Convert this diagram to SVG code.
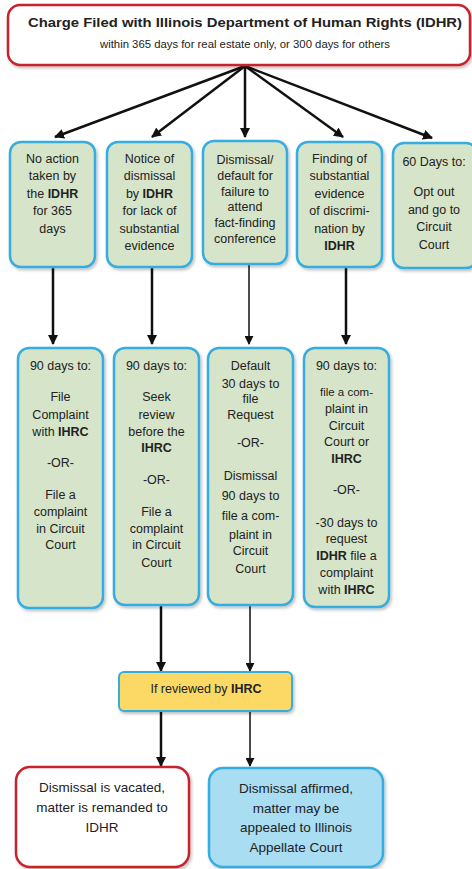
<svg xmlns="http://www.w3.org/2000/svg" width="472" height="869" viewBox="0 0 472 869">
<defs>
<marker id="ah" viewBox="0 0 10 10" refX="9" refY="5" markerWidth="4" markerHeight="4" orient="auto-start-reverse" markerUnits="strokeWidth">
<path d="M0,0 L10,5 L0,10 z" fill="#111"/>
</marker>
<marker id="ahs" viewBox="0 0 10 10" refX="9" refY="5" markerWidth="6" markerHeight="6" orient="auto" markerUnits="strokeWidth">
<path d="M0,0 L10,5 L0,10 z" fill="#111"/>
</marker>
<filter id="sh" x="-10%" y="-10%" width="130%" height="130%">
<feDropShadow dx="1.5" dy="2" stdDeviation="1.8" flood-color="#000" flood-opacity="0.25"/>
</filter>
</defs>
<style>
text{font-family:"Liberation Sans",Arial,sans-serif;fill:#222;text-anchor:middle}
.t{font-size:12.5px}
.b{font-weight:bold}
.g{fill:#d6e4c9;stroke:#35ade0;stroke-width:2.5;filter:url(#sh)}
.c{stroke:#111;stroke-width:2.5;fill:none;marker-end:url(#ah)}
.cs{stroke:#111;stroke-width:1.5;fill:none;marker-end:url(#ahs)}
</style>
<rect width="472" height="869" fill="#fff"/>

<g id="connectors">
<line class="c" x1="245" y1="66" x2="55" y2="137"/>
<line class="c" x1="245" y1="66" x2="152" y2="137"/>
<line class="c" x1="245" y1="66" x2="245" y2="137"/>
<line class="c" x1="245" y1="66" x2="343" y2="137"/>
<line class="c" x1="245" y1="66" x2="432" y2="138"/>
<line class="c" x1="53" y1="268" x2="53" y2="344"/>
<line class="c" x1="152" y1="268" x2="152" y2="344"/>
<line class="cs" x1="249" y1="264" x2="249" y2="344"/>
<line class="c" x1="346" y1="268" x2="346" y2="344"/>
<line class="c" x1="161" y1="606" x2="161" y2="671"/>
<line class="cs" x1="250" y1="606" x2="250" y2="671"/>
<line class="c" x1="161" y1="711" x2="161" y2="766"/>
<line class="cs" x1="250" y1="711" x2="250" y2="766"/>
</g>

<g id="top">
<rect x="8" y="5" width="462" height="60" rx="12" fill="#fff" stroke="#c8202a" stroke-width="2.5" filter="url(#sh)"/>
<text x="245" y="27" class="b" font-size="13.5" textLength="434" lengthAdjust="spacingAndGlyphs">Charge Filed with Illinois Department  of  Human Rights (IDHR)</text>
<text x="245" y="48" font-size="10" textLength="290" lengthAdjust="spacingAndGlyphs">within 365 days for real estate only, or 300 days for others</text>
</g>

<g id="n1">
<rect class="g" x="10" y="142" width="85" height="125" rx="11"/>
<text class="t"><tspan x="52.5" y="163">No action</tspan><tspan x="52.5" y="180">taken by</tspan><tspan x="52.5" y="198">the <tspan class="b">IDHR</tspan></tspan><tspan x="52.5" y="215">for 365</tspan><tspan x="52.5" y="233">days</tspan></text>
</g>
<g id="n2">
<rect class="g" x="107" y="142" width="85" height="125" rx="11"/>
<text class="t"><tspan x="149.5" y="163">Notice of</tspan><tspan x="149.5" y="180">dismissal</tspan><tspan x="149.5" y="198">by <tspan class="b">IDHR</tspan></tspan><tspan x="149.5" y="215">for  lack of</tspan><tspan x="149.5" y="233">substantial</tspan><tspan x="149.5" y="250">evidence</tspan></text>
</g>
<g id="n3">
<rect class="g" x="203" y="141" width="84" height="123" rx="11"/>
<text class="t"><tspan x="245" y="164">Dismissal/</tspan><tspan x="245" y="180">default for</tspan><tspan x="245" y="196">failure to</tspan><tspan x="245" y="211">attend</tspan><tspan x="245" y="227">fact-finding</tspan><tspan x="245" y="243">conference</tspan></text>
</g>
<g id="n4">
<rect class="g" x="297" y="142" width="85" height="125" rx="11"/>
<text class="t"><tspan x="339.5" y="163">Finding of</tspan><tspan x="339.5" y="180">substantial</tspan><tspan x="339.5" y="198">evidence</tspan><tspan x="339.5" y="215">of discrimi-</tspan><tspan x="339.5" y="233">nation by</tspan><tspan x="339.5" y="250" class="b">IDHR</tspan></text>
</g>
<g id="n5">
<rect class="g" x="393" y="143" width="84" height="125" rx="11"/>
<text class="t"><tspan x="434" y="166">60 Days to:</tspan><tspan x="434" y="196">Opt out</tspan><tspan x="434" y="214">and go to</tspan><tspan x="434" y="231">Circuit</tspan><tspan x="434" y="249">Court</tspan></text>
</g>

<g id="n6">
<rect class="g" x="18" y="348" width="85" height="260" rx="11"/>
<text class="t"><tspan x="60.5" y="370">90 days to:</tspan><tspan x="60.5" y="401">File</tspan><tspan x="60.5" y="419">Complaint</tspan><tspan x="60.5" y="436">with <tspan class="b">IHRC</tspan></tspan><tspan x="60.5" y="467">-OR-</tspan><tspan x="60.5" y="499">File a</tspan><tspan x="60.5" y="516">complaint</tspan><tspan x="60.5" y="533">in Circuit</tspan><tspan x="60.5" y="549">Court</tspan></text>
</g>
<g id="n7">
<rect class="g" x="114" y="348" width="85" height="257" rx="11"/>
<text class="t"><tspan x="156.5" y="370">90 days to:</tspan><tspan x="156.5" y="401">Seek</tspan><tspan x="156.5" y="419">review</tspan><tspan x="156.5" y="436">before the</tspan><tspan x="156.5" y="452" class="b">IHRC</tspan><tspan x="156.5" y="484">-OR-</tspan><tspan x="156.5" y="516">File a</tspan><tspan x="156.5" y="533">complaint</tspan><tspan x="156.5" y="549">in Circuit</tspan><tspan x="156.5" y="567">Court</tspan></text>
</g>
<g id="n8">
<rect class="g" x="208" y="348" width="85" height="257" rx="11"/>
<text class="t"><tspan x="250.5" y="370">Default</tspan><tspan x="250.5" y="388">30 days to</tspan><tspan x="250.5" y="403">file</tspan><tspan x="250.5" y="419">Request</tspan><tspan x="250.5" y="447">-OR-</tspan><tspan x="250.5" y="480">Dismissal</tspan><tspan x="250.5" y="500">90  days to</tspan><tspan x="250.5" y="520">file a  com-</tspan><tspan x="250.5" y="539">plaint in</tspan><tspan x="250.5" y="555">Circuit</tspan><tspan x="250.5" y="573">Court</tspan></text>
</g>
<g id="n9">
<rect class="g" x="304" y="348" width="85" height="259" rx="11"/>
<text class="t"><tspan x="346.5" y="370">90 days to:</tspan><tspan x="346.5" y="396" font-size="11.5">file a  com-</tspan><tspan x="346.5" y="413">plaint in</tspan><tspan x="346.5" y="430">Circuit</tspan><tspan x="346.5" y="446">Court or</tspan><tspan x="346.5" y="463" class="b">IHRC</tspan><tspan x="346.5" y="494">-OR-</tspan><tspan x="346.5" y="527">-30 days to</tspan><tspan x="346.5" y="543">request</tspan><tspan x="346.5" y="560"><tspan class="b">IDHR</tspan> file a</tspan><tspan x="346.5" y="577">complaint</tspan><tspan x="346.5" y="594">with <tspan class="b">IHRC</tspan></tspan></text>
</g>

<g id="n10">
<rect x="119" y="672" width="173" height="39" rx="5" fill="#fcd865" stroke="#35ade0" stroke-width="2" filter="url(#sh)"/>
<text x="206" y="693" class="t">If reviewed by <tspan class="b">IHRC</tspan></text>
</g>

<g id="n11">
<rect x="16" y="767" width="173" height="100" rx="14" fill="#fff" stroke="#c8202a" stroke-width="2.5" filter="url(#sh)"/>
<text font-size="13.5"><tspan x="102" y="792">Dismissal is vacated,</tspan><tspan x="102" y="812">matter is remanded to</tspan><tspan x="102" y="832">IDHR</tspan></text>
</g>
<g id="n12">
<rect x="209" y="768" width="174" height="99" rx="14" fill="#a9ddf2" stroke="#35ade0" stroke-width="2.5" filter="url(#sh)"/>
<text font-size="13.5"><tspan x="296" y="793">Dismissal affirmed,</tspan><tspan x="296" y="813">matter may be</tspan><tspan x="296" y="832">appealed to Illinois</tspan><tspan x="296" y="852">Appellate Court</tspan></text>
</g>
</svg>
